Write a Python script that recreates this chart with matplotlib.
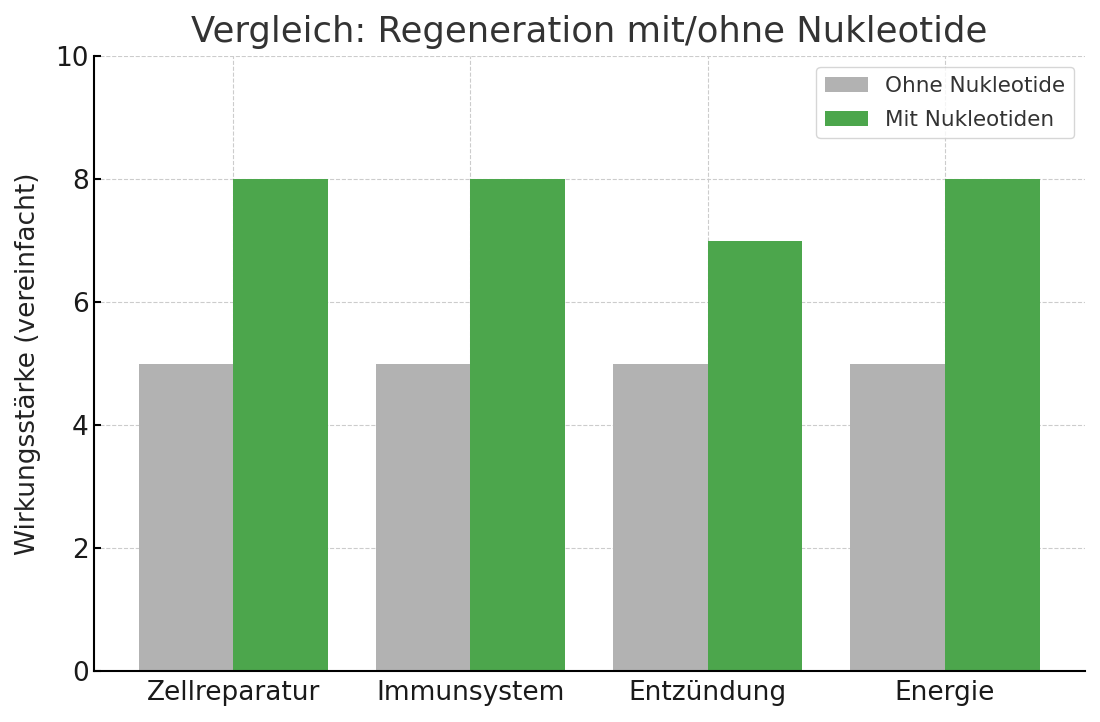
import numpy as np
import matplotlib
matplotlib.use("Agg")
import matplotlib.pyplot as plt

categories = ["Zellreparatur", "Immunsystem", "Entzündung", "Energie"]
ohne = [5, 5, 5, 5]
mit = [8, 8, 7, 8]

plt.rcParams['font.family'] = ['DejaVu Sans']

fig, ax = plt.subplots(figsize=(11, 7.22), dpi=100)
x = np.arange(len(categories))
w = 0.4

ax.bar(x - w / 2, ohne, w, label="Ohne Nukleotide", color="#b2b2b2")
ax.bar(x + w / 2, mit, w, label="Mit Nukleotiden", color="#4ca64c")

ax.set_xticks(x)
ax.set_xticklabels(categories, fontsize=19, color="#1a1a1a")
ax.set_ylim(0, 10)
ax.set_yticks(range(0, 11, 2))
ax.tick_params(axis="y", labelsize=19, labelcolor="#1a1a1a", direction="in", length=5, width=1.5)
ax.tick_params(axis="x", direction="in", length=5, width=1, pad=6)
ax.set_ylabel("Wirkungsstärke (vereinfacht)", fontsize=19, color="#222222", labelpad=10)
ax.set_title("Vergleich: Regeneration mit/ohne Nukleotide", fontsize=25.5, color="#333333", pad=10)

ax.grid(True, linestyle="--", color="#cccccc", linewidth=0.8)
ax.set_axisbelow(True)
for s in ["top", "right"]:
    ax.spines[s].set_visible(False)
ax.spines["left"].set_linewidth(1.5)
ax.spines["bottom"].set_linewidth(1.5)

ax.legend(fontsize=15.5, loc="upper right", frameon=True, edgecolor="#cccccc",
          handlelength=2.0, labelspacing=0.65, labelcolor="#333333")

fig.subplots_adjust(left=0.085, right=0.986, top=0.922, bottom=0.07)
fig.savefig("out.png", dpi=100)
